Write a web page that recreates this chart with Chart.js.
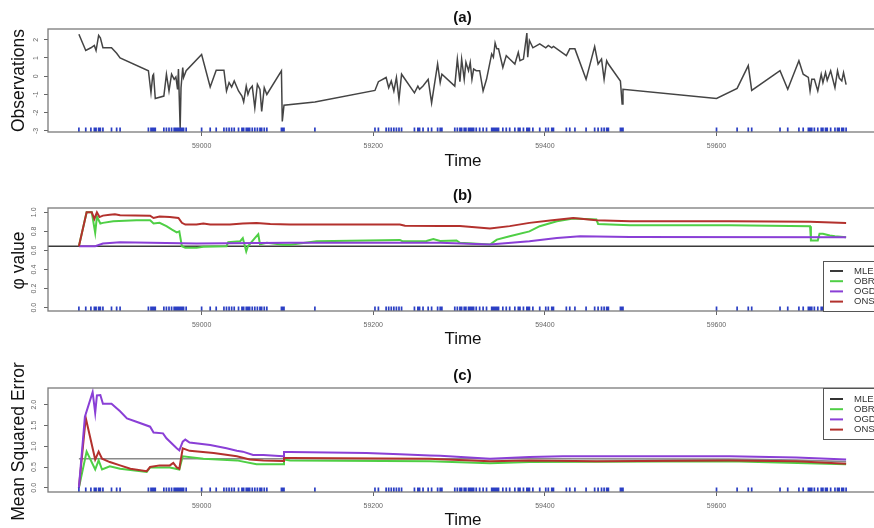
<!DOCTYPE html>
<html><head><meta charset="utf-8">
<script src="https://cdn.jsdelivr.net/npm/chart.js@4.4.0/dist/chart.umd.min.js"></script>
<style>
html,body{margin:0;padding:0;background:#fff;overflow:hidden;width:874px;height:528px;}
#wrap{position:relative;width:874px;height:528px;overflow:hidden;background:#fff;}
canvas{position:absolute;left:0;}
svg{position:absolute;left:0;top:0;pointer-events:none;}
</style></head><body>
<div id="wrap">
<canvas id="ca" width="880" height="175" style="top:0px"></canvas>
<canvas id="cb" width="880" height="175" style="top:175px"></canvas>
<canvas id="cc" width="880" height="178" style="top:350px"></canvas>
<svg width="874" height="528" font-family="Liberation Sans, Arial, Helvetica, sans-serif" fill="#111">
  <text x="462.5" y="21.5" text-anchor="middle" font-weight="bold" font-size="15">(a)</text>
  <text x="462.5" y="199.5" text-anchor="middle" font-weight="bold" font-size="15">(b)</text>
  <text x="462.5" y="380" text-anchor="middle" font-weight="bold" font-size="15">(c)</text>
  <text x="463" y="165.5" text-anchor="middle" font-size="17">Time</text>
  <text x="463" y="344" text-anchor="middle" font-size="17">Time</text>
  <text x="463" y="525" text-anchor="middle" font-size="17">Time</text>
  <text transform="translate(23.5,80.5) rotate(-90)" text-anchor="middle" font-size="17.5">Observations</text>
  <text transform="translate(23.5,260.5) rotate(-90)" text-anchor="middle" font-size="17.5">φ value</text>
  <text transform="translate(24,441.5) rotate(-90)" text-anchor="middle" font-size="17.5">Mean Squared Error</text>
</svg>
</div>
<script>
// ---------- DATA ----------
const seriesNames = ['MLE', 'OBR', 'OGD', 'ONS'];
const xTickValues = [59000, 59200, 59400, 59600];
const yTicksA = [-3, -2, -1, 0, 1, 2];
const yTicksB = [0, 0.2, 0.4, 0.6, 0.8, 1.0];
const yTicksC = [0, 0.5, 1.0, 1.5, 2.0];

// (a) observations
const obsTimes = [58857,58865,58871,58875,58877,58880,58882,58885,58895,58901,58905,58938,58941,58943,58944,58946,58956,58959,58962,58965,58968,58970,58972,58973,58975,58976,58978,58979,58982,59000,59010,59017,59026,59029,59032,59035,59038,59043,59047,59049,59052,59054,59056,59059,59062,59065,59068,59070,59073,59076,59093,59094,59096,59132,59202,59206,59215,59218,59221,59224,59227,59230,59233,59248,59252,59254,59258,59264,59268,59275,59278,59280,59295,59298,59301,59303,59306,59308,59311,59313,59315,59317,59320,59324,59328,59332,59338,59340,59342,59344,59346,59351,59355,59359,59365,59369,59371,59375,59379,59380,59382,59386,59394,59401,59404,59408,59410,59425,59429,59435,59448,59458,59462,59466,59469,59472,59474,59488,59490,59491,59600,59624,59637,59641,59674,59683,59696,59701,59707,59709,59711,59714,59718,59722,59724,59727,59729,59733,59738,59741,59743,59746,59748,59751];
const obsValues = [2.3,1.41,1.56,1.69,1.41,2.24,2.1,1.56,1.56,1.26,1.0,0.30,-0.9,0.02,0.1,-1.22,-1.09,0.11,-0.81,0.11,-0.17,-0.04,-0.72,0.39,-2.85,-0.63,0.48,-0.07,0.30,1.19,-0.59,0.33,0.33,-0.81,-0.35,-0.59,-0.26,-0.81,-1.09,-1.41,-0.54,-1.0,-0.72,-0.54,-1.74,-0.44,-0.72,-1.93,-0.63,-1.0,0.30,-2.48,-1.59,-1.41,-0.78,-0.30,-0.07,-0.63,-0.26,-0.81,-0.07,-1.28,0.11,-0.91,-0.54,-0.72,-0.54,-0.17,-1.46,0.67,-0.35,0.11,-0.54,0.94,-0.30,0.94,-0.17,0.76,0.30,0.76,-0.17,0.39,0.30,0.30,-0.81,-0.17,1.22,1.04,1.82,1.5,1.5,0.48,1.13,0.94,0.67,1.31,0.85,0.94,2.37,1.04,1.96,1.56,1.78,1.56,1.69,1.56,1.63,1.13,1.5,1.5,-0.17,1.63,0.67,0.94,-0.17,0.85,0.67,-0.26,-1.52,-0.72,-1.22,-0.67,0.58,-0.78,0.30,-0.72,0.85,0.11,-0.07,-0.81,-0.17,-0.17,-0.81,0.11,-0.35,0.2,-0.22,0.30,-0.63,0.30,-0.1,-0.26,0.2,-0.46];

// (b) phi estimates
const phiMLE = 0.644;
const phiObrT = [58857,58866,58872,58876,58878,58882,58885,58897,58924,58940,58944,58951,58959,58965,58971,58974,58977,58981,58994,59002,59029,59031,59045,59048,59052,59054,59062,59066,59068,59076,59095,59103,59134,59231,59234,59262,59270,59278,59297,59301,59336,59344,59359,59382,59394,59414,59433,59460,59462,59499,59615,59709,59710,59718,59720,59724,59732,59738,59751];
const phiObrV = [0.644,1.0,1.0,0.785,0.955,0.882,0.889,0.906,0.916,0.916,0.882,0.889,0.854,0.82,0.79,0.80,0.644,0.627,0.627,0.638,0.644,0.687,0.697,0.73,0.59,0.644,0.73,0.77,0.665,0.68,0.66,0.66,0.697,0.71,0.697,0.70,0.72,0.70,0.704,0.68,0.662,0.714,0.749,0.8,0.854,0.906,0.934,0.924,0.878,0.864,0.864,0.854,0.704,0.704,0.774,0.774,0.756,0.749,0.739];
const phiOgdT = [58857,58876,58885,58905,58994,59103,59278,59336,59382,59414,59441,59499,59751];
const phiOgdV = [0.644,0.644,0.673,0.687,0.672,0.68,0.68,0.662,0.697,0.73,0.749,0.742,0.739];
const phiOnsT = [58857,58866,58872,58875,58878,58881,58885,58893,58899,58905,58940,58944,58951,58963,58973,58977,58981,58994,59002,59010,59033,59048,59064,59080,59103,59231,59237,59278,59301,59336,59359,59382,59406,59433,59460,59499,59615,59709,59751];
const phiOnsV = [0.644,1.0,1.0,0.93,1.0,0.95,0.965,0.975,0.98,0.97,0.965,0.94,0.955,0.95,0.94,0.89,0.871,0.871,0.882,0.871,0.871,0.882,0.887,0.876,0.871,0.871,0.858,0.855,0.855,0.829,0.855,0.889,0.913,0.941,0.917,0.906,0.906,0.9,0.889];

// (c) mean squared error
const mseMleT = [58857,59400,59615,59693,59751];
const mseMleV = [0.70,0.70,0.69,0.67,0.63];
const mseObrT = [58857,58866,58876,58880,58884,58893,58905,58936,58940,58963,58974,58978,59002,59041,59064,59095,59096,59103,59266,59336,59382,59615,59751];
const mseObrV = [0,0.87,0.44,0.66,0.44,0.52,0.46,0.38,0.49,0.49,0.44,0.76,0.70,0.66,0.57,0.57,0.68,0.66,0.64,0.59,0.62,0.64,0.57];
const mseOgdT = [58857,58864,58873,58876,58878,58882,58885,58895,58905,58913,58924,58940,58944,58955,58959,58971,58974,58978,58981,58986,59010,59029,59041,59048,59060,59072,59095,59096,59103,59192,59231,59266,59278,59336,59382,59421,59615,59693,59751];
const mseOgdV = [0,1.71,2.30,1.80,2.22,2.23,2.02,2.02,1.84,1.67,1.59,1.47,1.33,1.31,1.19,0.95,0.90,1.11,1.16,1.09,1.03,0.95,0.89,0.87,0.79,0.79,0.76,0.86,0.86,0.84,0.81,0.78,0.77,0.70,0.74,0.76,0.76,0.73,0.68];
const mseOnsT = [58857,58865,58876,58880,58884,58893,58905,58917,58936,58940,58951,58963,58967,58971,58974,58978,58986,59014,59041,59056,59072,59095,59096,59103,59266,59278,59336,59382,59460,59615,59693,59751];
const mseOnsV = [0,1.68,0.68,0.87,0.70,0.62,0.54,0.46,0.40,0.50,0.54,0.54,0.60,0.49,0.46,0.95,0.89,0.84,0.76,0.68,0.66,0.645,0.72,0.72,0.70,0.69,0.64,0.66,0.64,0.66,0.64,0.58];

// ---------- STYLE / LAYOUT ----------
const X_MIN = 58821, X_MAX = 59787;
const COLORS = { MLE: '#333333', OBR: '#4fcf45', OGD: '#8a3fd6', ONS: '#b3312d' };
const FONT = "'Liberation Sans', Arial, Helvetica, sans-serif";
const zip = (t, v) => t.map((x, i) => ({ x: x, y: v[i] }));

const boxPlugin = {
  id: 'plotbox',
  afterDraw(chart) {
    const { ctx, chartArea: a } = chart;
    ctx.save();
    ctx.strokeStyle = '#7a7a7a';
    ctx.lineWidth = 1.3;
    ctx.strokeRect(a.left, a.top, a.right - a.left, a.bottom - a.top);
    ctx.restore();
  }
};
const rugPlugin = {
  id: 'rug',
  afterDatasetsDraw(chart, args, opts) {
    if (!opts || !opts.times) return;
    const { ctx, chartArea: a } = chart;
    const xs = chart.scales.x;
    ctx.save();
    ctx.strokeStyle = opts.color;
    ctx.lineWidth = 1.7;
    ctx.beginPath();
    opts.times.forEach(t => {
      const px = xs.getPixelForValue(t);
      ctx.moveTo(px, a.bottom);
      ctx.lineTo(px, a.bottom - opts.len);
    });
    ctx.stroke();
    ctx.restore();
  }
};
const legendPlugin = {
  id: 'boxlegend',
  afterDraw(chart, args, opts) {
    if (!opts || !opts.show) return;
    const { ctx } = chart;
    ctx.save();
    ctx.fillStyle = '#fff';
    ctx.fillRect(opts.x, opts.y, opts.w, opts.h);
    ctx.strokeStyle = '#555';
    ctx.lineWidth = 1;
    ctx.strokeRect(opts.x + 0.5, opts.y + 0.5, opts.w, opts.h);
    ctx.font = '9.5px ' + FONT;
    ctx.textBaseline = 'middle';
    ctx.textAlign = 'left';
    const sets = chart.data.datasets.filter(d => d.label && seriesNames.includes(d.label));
    sets.forEach((d, i) => {
      const y = opts.y + opts.first + i * opts.row;
      ctx.strokeStyle = d.legendColor || d.borderColor;
      ctx.lineWidth = 2;
      ctx.beginPath();
      ctx.moveTo(opts.x + 7, y);
      ctx.lineTo(opts.x + 20, y);
      ctx.stroke();
      ctx.fillStyle = '#333';
      ctx.fillText(d.label, opts.x + 31, y);
    });
    ctx.restore();
  }
};

function xScale(canvasH, bottom) {
  return {
    type: 'linear', min: X_MIN, max: X_MAX,
    afterBuildTicks: s => { s.ticks = xTickValues.map(v => ({ value: v })); },
    ticks: { font: { size: 7, family: FONT }, color: '#666', padding: 6, maxRotation: 0, autoSkip: false, callback: v => String(v) },
    grid: { drawOnChartArea: false, drawTicks: true, tickLength: 4, color: '#666', lineWidth: 1 },
    border: { display: false },
    afterFit: s => { s.height = canvasH - bottom; s.paddingLeft = 0; s.paddingRight = 0; }
  };
}
function yScale(min, max, ticks, fmt) {
  return {
    type: 'linear', min: min, max: max,
    afterBuildTicks: s => { s.ticks = ticks.map(v => ({ value: v })); },
    ticks: { font: { size: 7, family: FONT }, color: '#666', padding: 5, minRotation: 90, maxRotation: 90, crossAlign: 'center', autoSkip: false, callback: fmt },
    grid: { drawOnChartArea: false, drawTicks: true, tickLength: 4, color: '#666', lineWidth: 1 },
    border: { display: false },
    afterFit: s => { s.width = 48; s.paddingTop = 0; s.paddingBottom = 0; }
  };
}
function lineDs(label, data, color, width, order) {
  return { label: label, data: data, borderColor: color, borderWidth: width, pointRadius: 0, tension: 0, fill: false, order: order };
}
function baseOptions(canvasH, top, bottom, ymin, ymax, yticks, fmt, rugLen, legend) {
  return {
    responsive: false, animation: false, devicePixelRatio: 1,
    layout: { padding: { top: top, right: 3, left: 0, bottom: 0 } },
    scales: { x: xScale(canvasH, bottom), y: yScale(ymin, ymax, yticks, fmt) },
    plugins: {
      legend: { display: false }, tooltip: { enabled: false }, title: { display: false },
      rug: { times: obsTimes, color: '#2b3fc4', len: rugLen },
      boxlegend: legend
    }
  };
}
Chart.register(boxPlugin, rugPlugin, legendPlugin);

// (a)
new Chart(document.getElementById('ca'), {
  type: 'line',
  data: { datasets: [ lineDs('Observations', zip(obsTimes, obsValues), '#444444', 1.5, 1) ] },
  options: baseOptions(175, 29, 132, -3.06, 2.59, yTicksA, v => String(v), 4.5, { show: false })
});

// (b)
new Chart(document.getElementById('cb'), {
  type: 'line',
  data: { datasets: [
    lineDs('MLE', [{ x: X_MIN, y: phiMLE }, { x: X_MAX, y: phiMLE }], '#3a3a3a', 1.4, 4),
    lineDs('OBR', zip(phiObrT, phiObrV), COLORS.OBR, 2, 3),
    lineDs('OGD', zip(phiOgdT, phiOgdV), COLORS.OGD, 2, 2),
    lineDs('ONS', zip(phiOnsT, phiOnsV), COLORS.ONS, 2, 1)
  ] },
  options: baseOptions(175, 33, 136, -0.035, 1.045, yTicksB, v => Number(v).toFixed(1), 4.5,
    { show: true, x: 823, y: 86, w: 60, h: 50, first: 10, row: 10.2 })
});

// (c)
new Chart(document.getElementById('cc'), {
  type: 'line',
  data: { datasets: [
    Object.assign(lineDs('MLE', zip(mseMleT, mseMleV), '#8a8a8a', 1.6, 4), { legendColor: '#333' }),
    lineDs('OBR', zip(mseObrT, mseObrV), COLORS.OBR, 2, 3),
    lineDs('OGD', zip(mseOgdT, mseOgdV), COLORS.OGD, 2, 1),
    lineDs('ONS', zip(mseOnsT, mseOnsV), COLORS.ONS, 2, 2)
  ] },
  options: baseOptions(178, 38, 142, -0.1, 2.4, yTicksC, v => Number(v).toFixed(1), 4.5,
    { show: true, x: 823, y: 38, w: 60, h: 51, first: 11, row: 10.2 })
});
</script>
</body></html>
